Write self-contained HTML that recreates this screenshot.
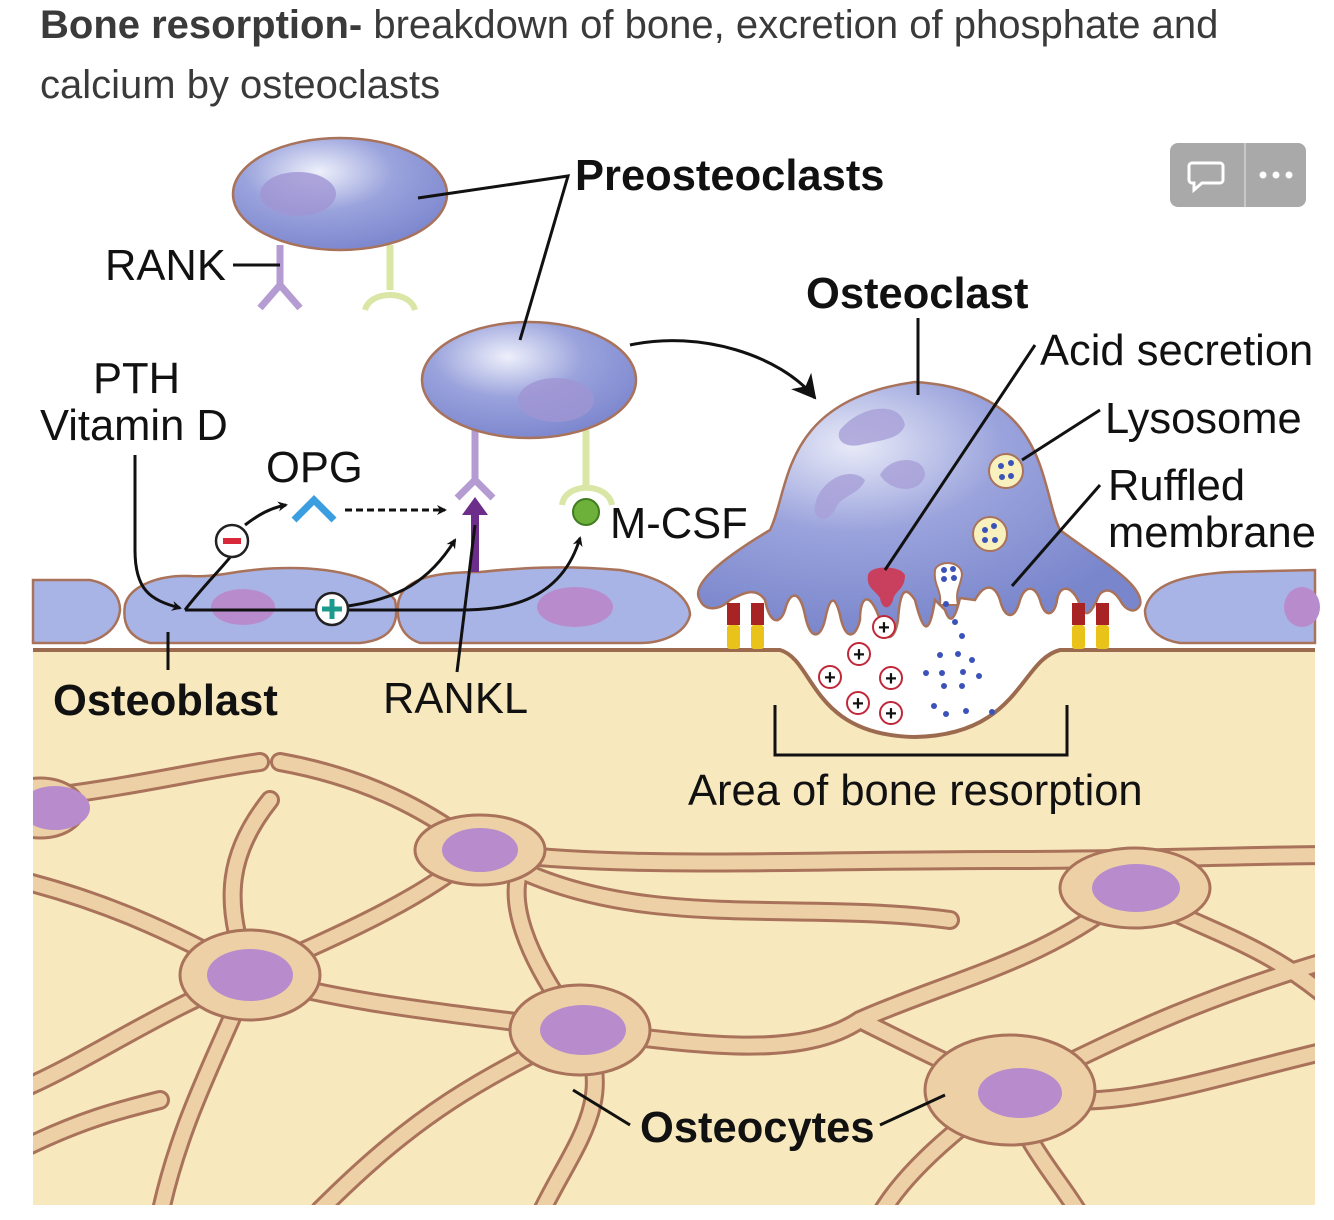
<!DOCTYPE html>
<html><head><meta charset="utf-8"><style>
html,body{margin:0;padding:0;background:#fff;}
body{width:1334px;height:1220px;overflow:hidden;position:relative;font-family:"Liberation Sans",sans-serif;}
.t{position:absolute;left:40px;font-size:40px;color:#3a3a3a;line-height:60px;}
</style></head><body>
<div class="t" style="top:-5px"><b>Bone resorption-</b> breakdown of bone, excretion of phosphate and</div>
<div class="t" style="top:55px">calcium by osteoclasts</div>
<svg width="1334" height="1220" style="position:absolute;left:0;top:0" font-family="Liberation Sans, sans-serif">
<defs>
<radialGradient id="cg" cx="0.4" cy="0.3" r="0.7"><stop offset="0" stop-color="#eef0fb"/><stop offset="0.5" stop-color="#9aa3dc"/><stop offset="1" stop-color="#7e88cf"/></radialGradient>
<radialGradient id="og" cx="0.35" cy="0.25" r="0.75"><stop offset="0" stop-color="#e8eaf8"/><stop offset="0.45" stop-color="#9aa3dc"/><stop offset="1" stop-color="#7a86cc"/></radialGradient>
<marker id="ar" markerWidth="10" markerHeight="10" refX="8" refY="5" orient="auto" markerUnits="userSpaceOnUse"><path d="M0,0 L10,5 L0,10 L3,5z" fill="#111"/></marker>
<marker id="ar2" markerWidth="26" markerHeight="26" refX="22" refY="13" orient="auto" markerUnits="userSpaceOnUse"><path d="M0,0 L24,13 L0,26 L7,13z" fill="#111"/></marker>
<clipPath id="bc"><rect x="33" y="652" width="1282" height="553"/></clipPath>
</defs>
<rect x="1170" y="143" width="136" height="64" rx="8" fill="#a9a9a9"/>
<line x1="1245" y1="143" x2="1245" y2="207" stroke="#c8c8c8" stroke-width="2"/>
<path d="M1192,163 h28 a3,3 0 0 1 3,3 v14 a3,3 0 0 1 -3,3 h-18 l-8,7 v-7 h-2 a3,3 0 0 1 -3,-3 v-14 a3,3 0 0 1 3,-3z" fill="none" stroke="#fff" stroke-width="3"/>
<circle cx="1263" cy="175" r="3.5" fill="#fff"/><circle cx="1276" cy="175" r="3.5" fill="#fff"/><circle cx="1289" cy="175" r="3.5" fill="#fff"/>

<rect x="33" y="650" width="1282" height="555" fill="#f8e8bd"/>
<path d="M780,650 C815,660 810,735 915,737 C1020,735 1020,660 1060,650 Z" fill="#fff"/>
<path d="M33,650 H780 C815,660 810,735 915,737 C1020,735 1020,660 1060,650 H1315" fill="none" stroke="#9c6b4f" stroke-width="4"/>

<g clip-path="url(#bc)">
<g fill="none" stroke-linecap="round" stroke-linejoin="round">
<g stroke="#a9725a" stroke-width="20">
<path d="M20,800 C120,790 200,770 260,762"/>
<path d="M280,762 C380,780 440,820 480,850 C600,870 800,860 1000,860 C1150,860 1250,855 1330,855"/>
<path d="M480,850 C420,900 350,930 250,975 C160,1010 90,1060 20,1090"/>
<path d="M250,975 C220,1050 180,1120 160,1215"/>
<path d="M250,975 C220,900 230,850 270,800"/>
<path d="M250,975 C170,930 100,900 20,880"/>
<path d="M250,975 C330,1000 420,1010 580,1030 C700,1045 800,1060 860,1020 C950,980 1050,960 1130,890"/>
<path d="M580,1030 C520,950 510,900 520,870"/>
<path d="M580,1030 C620,1100 570,1150 540,1215"/>
<path d="M580,1030 C480,1080 420,1110 320,1210"/>
<path d="M860,1020 C920,1050 960,1070 1010,1090 C1080,1060 1160,1010 1330,960"/>
<path d="M1010,1090 C1020,1140 1060,1180 1080,1215"/>
<path d="M1010,1090 C940,1140 900,1180 880,1215"/>
<path d="M1010,1090 C1100,1120 1200,1080 1330,1050"/>
<path d="M520,870 C650,930 800,900 950,920"/>
<path d="M1130,890 C1200,930 1260,940 1330,1000"/>
<path d="M20,1150 C80,1120 120,1110 160,1100"/>
</g>
<g stroke="#edd0a5" stroke-width="14">
<path d="M20,800 C120,790 200,770 260,762"/>
<path d="M280,762 C380,780 440,820 480,850 C600,870 800,860 1000,860 C1150,860 1250,855 1330,855"/>
<path d="M480,850 C420,900 350,930 250,975 C160,1010 90,1060 20,1090"/>
<path d="M250,975 C220,1050 180,1120 160,1215"/>
<path d="M250,975 C220,900 230,850 270,800"/>
<path d="M250,975 C170,930 100,900 20,880"/>
<path d="M250,975 C330,1000 420,1010 580,1030 C700,1045 800,1060 860,1020 C950,980 1050,960 1130,890"/>
<path d="M580,1030 C520,950 510,900 520,870"/>
<path d="M580,1030 C620,1100 570,1150 540,1215"/>
<path d="M580,1030 C480,1080 420,1110 320,1210"/>
<path d="M860,1020 C920,1050 960,1070 1010,1090 C1080,1060 1160,1010 1330,960"/>
<path d="M1010,1090 C1020,1140 1060,1180 1080,1215"/>
<path d="M1010,1090 C940,1140 900,1180 880,1215"/>
<path d="M1010,1090 C1100,1120 1200,1080 1330,1050"/>
<path d="M520,870 C650,930 800,900 950,920"/>
<path d="M1130,890 C1200,930 1260,940 1330,1000"/>
<path d="M20,1150 C80,1120 120,1110 160,1100"/>
</g>
</g>
<g fill="#edd0a5" stroke="#a9725a" stroke-width="3">
<ellipse cx="480" cy="850" rx="65" ry="35"/>
<ellipse cx="250" cy="975" rx="70" ry="45"/>
<ellipse cx="580" cy="1030" rx="70" ry="45"/>
<ellipse cx="1010" cy="1090" rx="85" ry="55"/>
<ellipse cx="1135" cy="888" rx="75" ry="40"/>
<ellipse cx="40" cy="808" rx="45" ry="30"/>
</g>
<g fill="#b88ccc">
<ellipse cx="480" cy="850" rx="38" ry="22"/>
<ellipse cx="250" cy="975" rx="43" ry="26"/>
<ellipse cx="583" cy="1030" rx="43" ry="25"/>
<ellipse cx="1020" cy="1093" rx="42" ry="25"/>
<ellipse cx="1136" cy="888" rx="44" ry="24"/>
<ellipse cx="55" cy="808" rx="35" ry="22"/>
</g>
</g>

<g fill="#a9b4e6" stroke="#a9725a" stroke-width="2.5">
<path d="M33,580 L90,580 C115,585 120,600 120,610 C118,630 100,640 85,643 L33,643 Z"/>
<path d="M125,605 C130,585 160,575 190,576 C220,578 240,568 290,568 C340,568 380,580 395,600 C400,625 390,640 360,643 L150,643 C130,638 122,625 125,605Z"/>
<path d="M398,605 C400,580 430,572 480,572 C520,568 560,565 620,570 C670,578 690,600 690,615 C685,635 660,643 640,643 L420,643 C405,638 396,625 398,605Z"/>
<path d="M1145,610 C1150,585 1180,575 1230,572 L1315,570 L1315,643 L1180,643 C1160,640 1145,628 1145,610Z"/>
</g>
<g fill="#b88ccc"><ellipse cx="243" cy="607" rx="32" ry="18"/><ellipse cx="575" cy="607" rx="38" ry="20"/><ellipse cx="1302" cy="607" rx="18" ry="20"/></g>

<path d="M700,600 C690,585 720,560 770,530 C790,490 780,400 915,382 C1050,390 1040,490 1060,530 C1100,560 1145,585 1140,605 C1135,615 1125,610 1120,600 C1110,585 1100,590 1097,600 C1090,615 1085,620 1078,600 C1070,585 1060,585 1057,600 C1055,615 1045,620 1040,600 C1035,585 1025,585 1020,600 C1015,620 1005,620 1000,600 C995,585 985,582 975,600 L960,598 C955,620 950,625 945,610 L935,600 C930,630 925,640 915,600 C905,585 900,590 898,620 C895,640 885,645 880,620 C870,590 860,595 860,620 C855,640 845,640 840,615 C835,595 830,595 825,620 C820,640 810,640 805,615 C800,590 790,590 785,610 C780,625 770,625 765,600 C755,585 740,595 730,600 C720,610 705,612 700,600Z" fill="url(#og)" stroke="#a9725a" stroke-width="2.5"/>
<g fill="#a8a0d8" opacity="0.8"><path d="M840,430 C860,405 900,400 905,425 C900,440 880,440 860,445 C845,448 835,440 840,430Z"/><path d="M815,505 C820,480 850,465 865,480 C860,495 840,495 835,510 C825,525 812,520 815,505Z"/><path d="M880,475 C890,455 925,455 925,475 C920,495 890,492 880,475Z"/></g>
<circle cx="1006" cy="471" r="17" fill="#f8f0bd" stroke="#a9725a" stroke-width="2"/>
<circle cx="990" cy="534" r="17" fill="#f8f0bd" stroke="#a9725a" stroke-width="2"/>
<g fill="#3b52b8"><circle cx="1001" cy="466" r="3"/><circle cx="1011" cy="463" r="3"/><circle cx="1002" cy="477" r="3"/><circle cx="1011" cy="476" r="3"/><circle cx="985" cy="530" r="3"/><circle cx="994" cy="526" r="3"/><circle cx="985" cy="540" r="3"/><circle cx="995" cy="540" r="3"/></g>
<path d="M868,575 C870,565 900,565 905,575 C905,590 895,590 893,600 C890,610 882,610 880,598 C875,590 866,588 868,575Z" fill="#c9405e"/>
<path d="M935,570 C938,560 962,560 962,575 C960,588 955,590 958,605 L940,605 C942,590 933,585 935,570Z" fill="#fff" stroke="#a9725a" stroke-width="2"/>
<g fill="#3b52b8"><circle cx="944" cy="570" r="3"/><circle cx="953" cy="569" r="3"/><circle cx="944" cy="579" r="3"/><circle cx="954" cy="578" r="3"/>
<circle cx="946" cy="604" r="3"/><circle cx="955" cy="622" r="3"/><circle cx="962" cy="636" r="3"/><circle cx="940" cy="655" r="3"/><circle cx="958" cy="654" r="3"/><circle cx="972" cy="660" r="3"/><circle cx="926" cy="673" r="3"/><circle cx="942" cy="673" r="3"/><circle cx="963" cy="672" r="3"/><circle cx="979" cy="676" r="3"/><circle cx="944" cy="686" r="3"/><circle cx="962" cy="686" r="3"/><circle cx="934" cy="706" r="3"/><circle cx="946" cy="714" r="3"/><circle cx="966" cy="711" r="3"/><circle cx="992" cy="712" r="3"/></g>
<g font-size="20" font-weight="bold" text-anchor="middle" fill="#111">
<g fill="#fff" stroke="#c0283a" stroke-width="2"><circle cx="884" cy="627" r="11"/><circle cx="859" cy="654" r="11"/><circle cx="830" cy="677" r="11"/><circle cx="891" cy="678" r="11"/><circle cx="858" cy="703" r="11"/><circle cx="891" cy="713" r="11"/></g>
<text x="884" y="634">+</text><text x="859" y="661">+</text><text x="830" y="684">+</text><text x="891" y="685">+</text><text x="858" y="710">+</text><text x="891" y="720">+</text>
</g>
<g><rect x="727" y="603" width="13" height="22" fill="#a82424"/><rect x="751" y="603" width="13" height="22" fill="#a82424"/><rect x="727" y="625" width="13" height="24" rx="3" fill="#e9c21a"/><rect x="751" y="625" width="13" height="24" rx="3" fill="#e9c21a"/>
<rect x="1072" y="603" width="13" height="22" fill="#a82424"/><rect x="1096" y="603" width="13" height="22" fill="#a82424"/><rect x="1072" y="625" width="13" height="24" rx="3" fill="#e9c21a"/><rect x="1096" y="625" width="13" height="24" rx="3" fill="#e9c21a"/></g>

<path d="M280,245 V285 M280,285 L260,308 M280,285 L300,308" stroke="#b49bd2" stroke-width="7" fill="none"/>
<path d="M390,245 V290" stroke="#d9e6a6" stroke-width="7"/><path d="M365,310 C370,290 410,290 415,310" stroke="#d9e6a6" stroke-width="6" fill="none"/>
<ellipse cx="340" cy="194" rx="107" ry="56" fill="url(#cg)" stroke="#a9725a" stroke-width="2.5"/>
<ellipse cx="298" cy="194" rx="38" ry="22" fill="#a095d3" opacity="0.8"/>
<path d="M475,430 V480 M475,480 L457,498 M475,480 L493,498" stroke="#b49bd2" stroke-width="7" fill="none"/>
<path d="M586,430 V485" stroke="#d9e6a6" stroke-width="7"/><path d="M562,505 C565,482 608,482 612,505" stroke="#d9e6a6" stroke-width="6" fill="none"/>
<ellipse cx="529" cy="380" rx="107" ry="58" fill="url(#cg)" stroke="#a9725a" stroke-width="2.5"/>
<ellipse cx="556" cy="400" rx="38" ry="22" fill="#a095d3" opacity="0.8"/>
<circle cx="586" cy="512" r="13" fill="#6db13b" stroke="#3f7d1e" stroke-width="2"/>
<path d="M294,520 L314,500 L334,520" stroke="#3b9ee0" stroke-width="7" fill="none"/>
<path d="M475,572 V505" stroke="#6d2d8a" stroke-width="8"/><path d="M462,515 L475,497 L488,515Z" fill="#6d2d8a"/>

<g stroke="#111" stroke-width="3" fill="none">
<path d="M233,265 H280"/>
<path d="M418,198 L568,176 L520,340"/>
<path d="M630,345 C700,330 780,355 815,398" marker-end="url(#ar2)"/>
<path d="M918,318 V395"/>
<path d="M1035,345 L885,570"/>
<path d="M1100,410 L1022,460"/>
<path d="M1100,485 L1012,586"/>
<path d="M135,455 V550 C135,590 150,600 180,608" marker-end="url(#ar)"/>
<path d="M185,610 H460 C500,610 560,605 580,538" marker-end="url(#ar)"/>
<path d="M340,607 C400,600 430,580 455,540" marker-end="url(#ar)"/>
<path d="M185,610 C200,590 220,570 232,555"/>
<path d="M245,525 C258,515 270,508 286,505" marker-end="url(#ar)"/>
<path d="M345,510 H445" stroke-dasharray="7,4" marker-end="url(#ar)"/>
<path d="M168,632 V670"/>
<path d="M475,525 L457,672"/>
<path d="M775,705 V755 H1067 V705"/>
<path d="M573,1090 L630,1125"/>
<path d="M880,1125 L945,1095"/>
</g>
<circle cx="232" cy="541" r="16" fill="#fff" stroke="#222" stroke-width="2.5"/><rect x="223" y="538" width="18" height="6" fill="#d8283a"/>
<circle cx="332" cy="609" r="16" fill="#fff" stroke="#222" stroke-width="2.5"/><path d="M322,609 H342 M332,599 V619" stroke="#1c9a8c" stroke-width="5"/>

<g fill="#111" font-size="43.5">
<text x="575" y="190" font-weight="bold">Preosteoclasts</text>
<text x="105" y="280">RANK</text>
<text x="806" y="308" font-weight="bold">Osteoclast</text>
<text x="1040" y="365">Acid secretion</text>
<text x="1105" y="433">Lysosome</text>
<text x="1108" y="500">Ruffled</text>
<text x="1108" y="547">membrane</text>
<text x="93" y="393">PTH</text>
<text x="40" y="440">Vitamin D</text>
<text x="266" y="482">OPG</text>
<text x="610" y="538">M-CSF</text>
<text x="53" y="715" font-weight="bold">Osteoblast</text>
<text x="383" y="713">RANKL</text>
<text x="688" y="805">Area of bone resorption</text>
<text x="640" y="1142" font-weight="bold">Osteocytes</text>
</g>
</svg>
</body></html>
